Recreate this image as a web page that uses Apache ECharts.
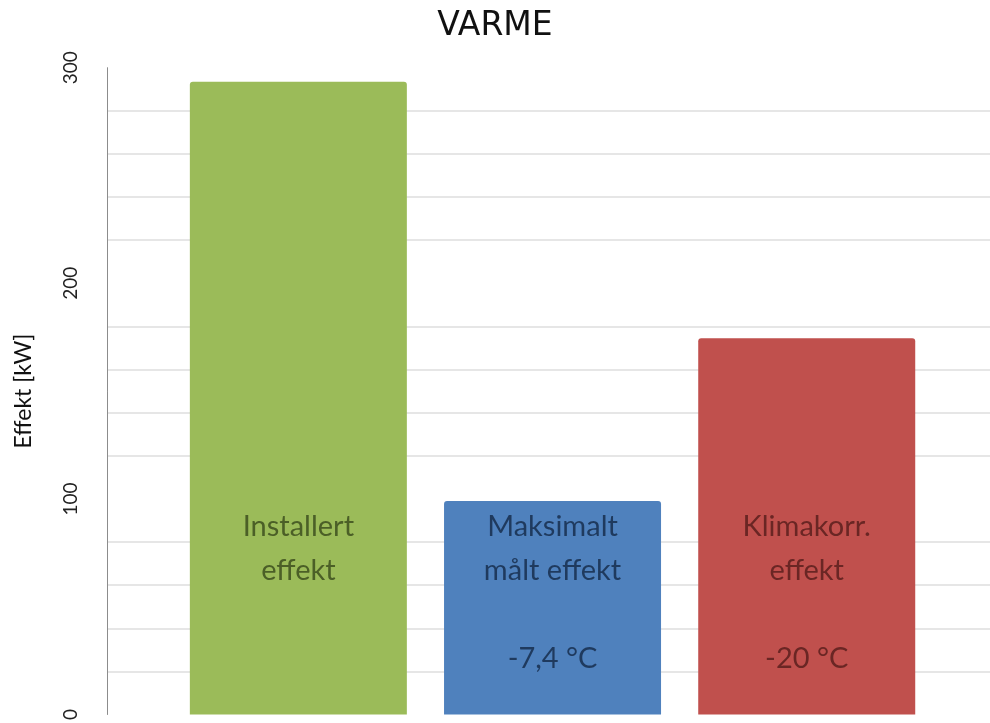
<!DOCTYPE html>
<html>
<head>
<meta charset="utf-8">
<script src="https://cdn.jsdelivr.net/npm/echarts@6/dist/echarts.min.js"></script>
<style>
  html, body { margin: 0; padding: 0; background: #ffffff; }
  #chart { width: 990px; height: 723px; }
</style>
</head>
<body>
<div id="chart"></div>
<script>
// Heating power: installed vs. measured vs. climate-corrected
const categories = ['Installert\neffekt', 'Maksimalt\nmålt effekt', 'Klimakorr.\neffekt'];
const temperatures = ['', '-7,4 °C', '-20 °C'];
const values = [293.5, 99, 174.5];
const yTicks = [0, 100, 200, 300];

const barColors = ['#9bbb59', '#4f81bd', '#c0504d'];
const textColors = ['#4b5f27', '#1f3a5e', '#6a2624'];

const seriesData = values.map((v, i) => ({
  value: [i + 1, v],
  name: categories[i],
  itemStyle: { color: barColors[i] },
  label: { color: textColors[i] }
}));

const chart = echarts.init(document.getElementById('chart'), null, { renderer: 'canvas' });

chart.setOption({
  animation: false,
  backgroundColor: '#ffffff',
  title: {
    text: 'VARME',
    left: 'center',
    top: 5,
    textStyle: {
      fontFamily: 'DejaVu Sans',
      fontSize: 33,
      fontWeight: 'normal',
      color: '#111111'
    }
  },
  grid: { left: 107, right: 0, top: 67.7, bottom: 6.3, containLabel: false },
  xAxis: {
    type: 'value',
    min: 0.2472,
    max: 3.721,
    show: false
  },
  yAxis: {
    type: 'value',
    min: yTicks[0],
    max: yTicks[yTicks.length - 1],
    interval: 100,
    name: 'Effekt [kW]',
    nameLocation: 'middle',
    nameRotate: 90,
    nameGap: 72,
    nameTextStyle: {
      fontFamily: 'Lato',
      fontSize: 23,
      color: '#111111'
    },
    axisLine: { show: true, lineStyle: { color: '#8c8c8c', width: 1 } },
    axisTick: { show: false },
    axisLabel: {
      rotate: 90,
      margin: 27,
      fontFamily: 'Lato',
      fontSize: 19,
      color: '#222222'
    },
    splitLine: { show: false },
    minorTick: { show: false, splitNumber: 5 },
    minorSplitLine: { show: true, lineStyle: { color: '#e6e6e6', width: 2 } }
  },
  series: [{
    type: 'bar',
    barWidth: 217,
    data: seriesData,
    itemStyle: { borderRadius: [3, 3, 0, 0] },
    label: {
      show: true,
      position: 'insideBottom',
      distance: 34,
      fontFamily: 'Lato',
      fontSize: 29,
      lineHeight: 44,
      align: 'center',
      formatter: p => categories[p.dataIndex] + '\n\n' + (temperatures[p.dataIndex] || ' ')
    }
  }]
});
</script>
</body>
</html>
